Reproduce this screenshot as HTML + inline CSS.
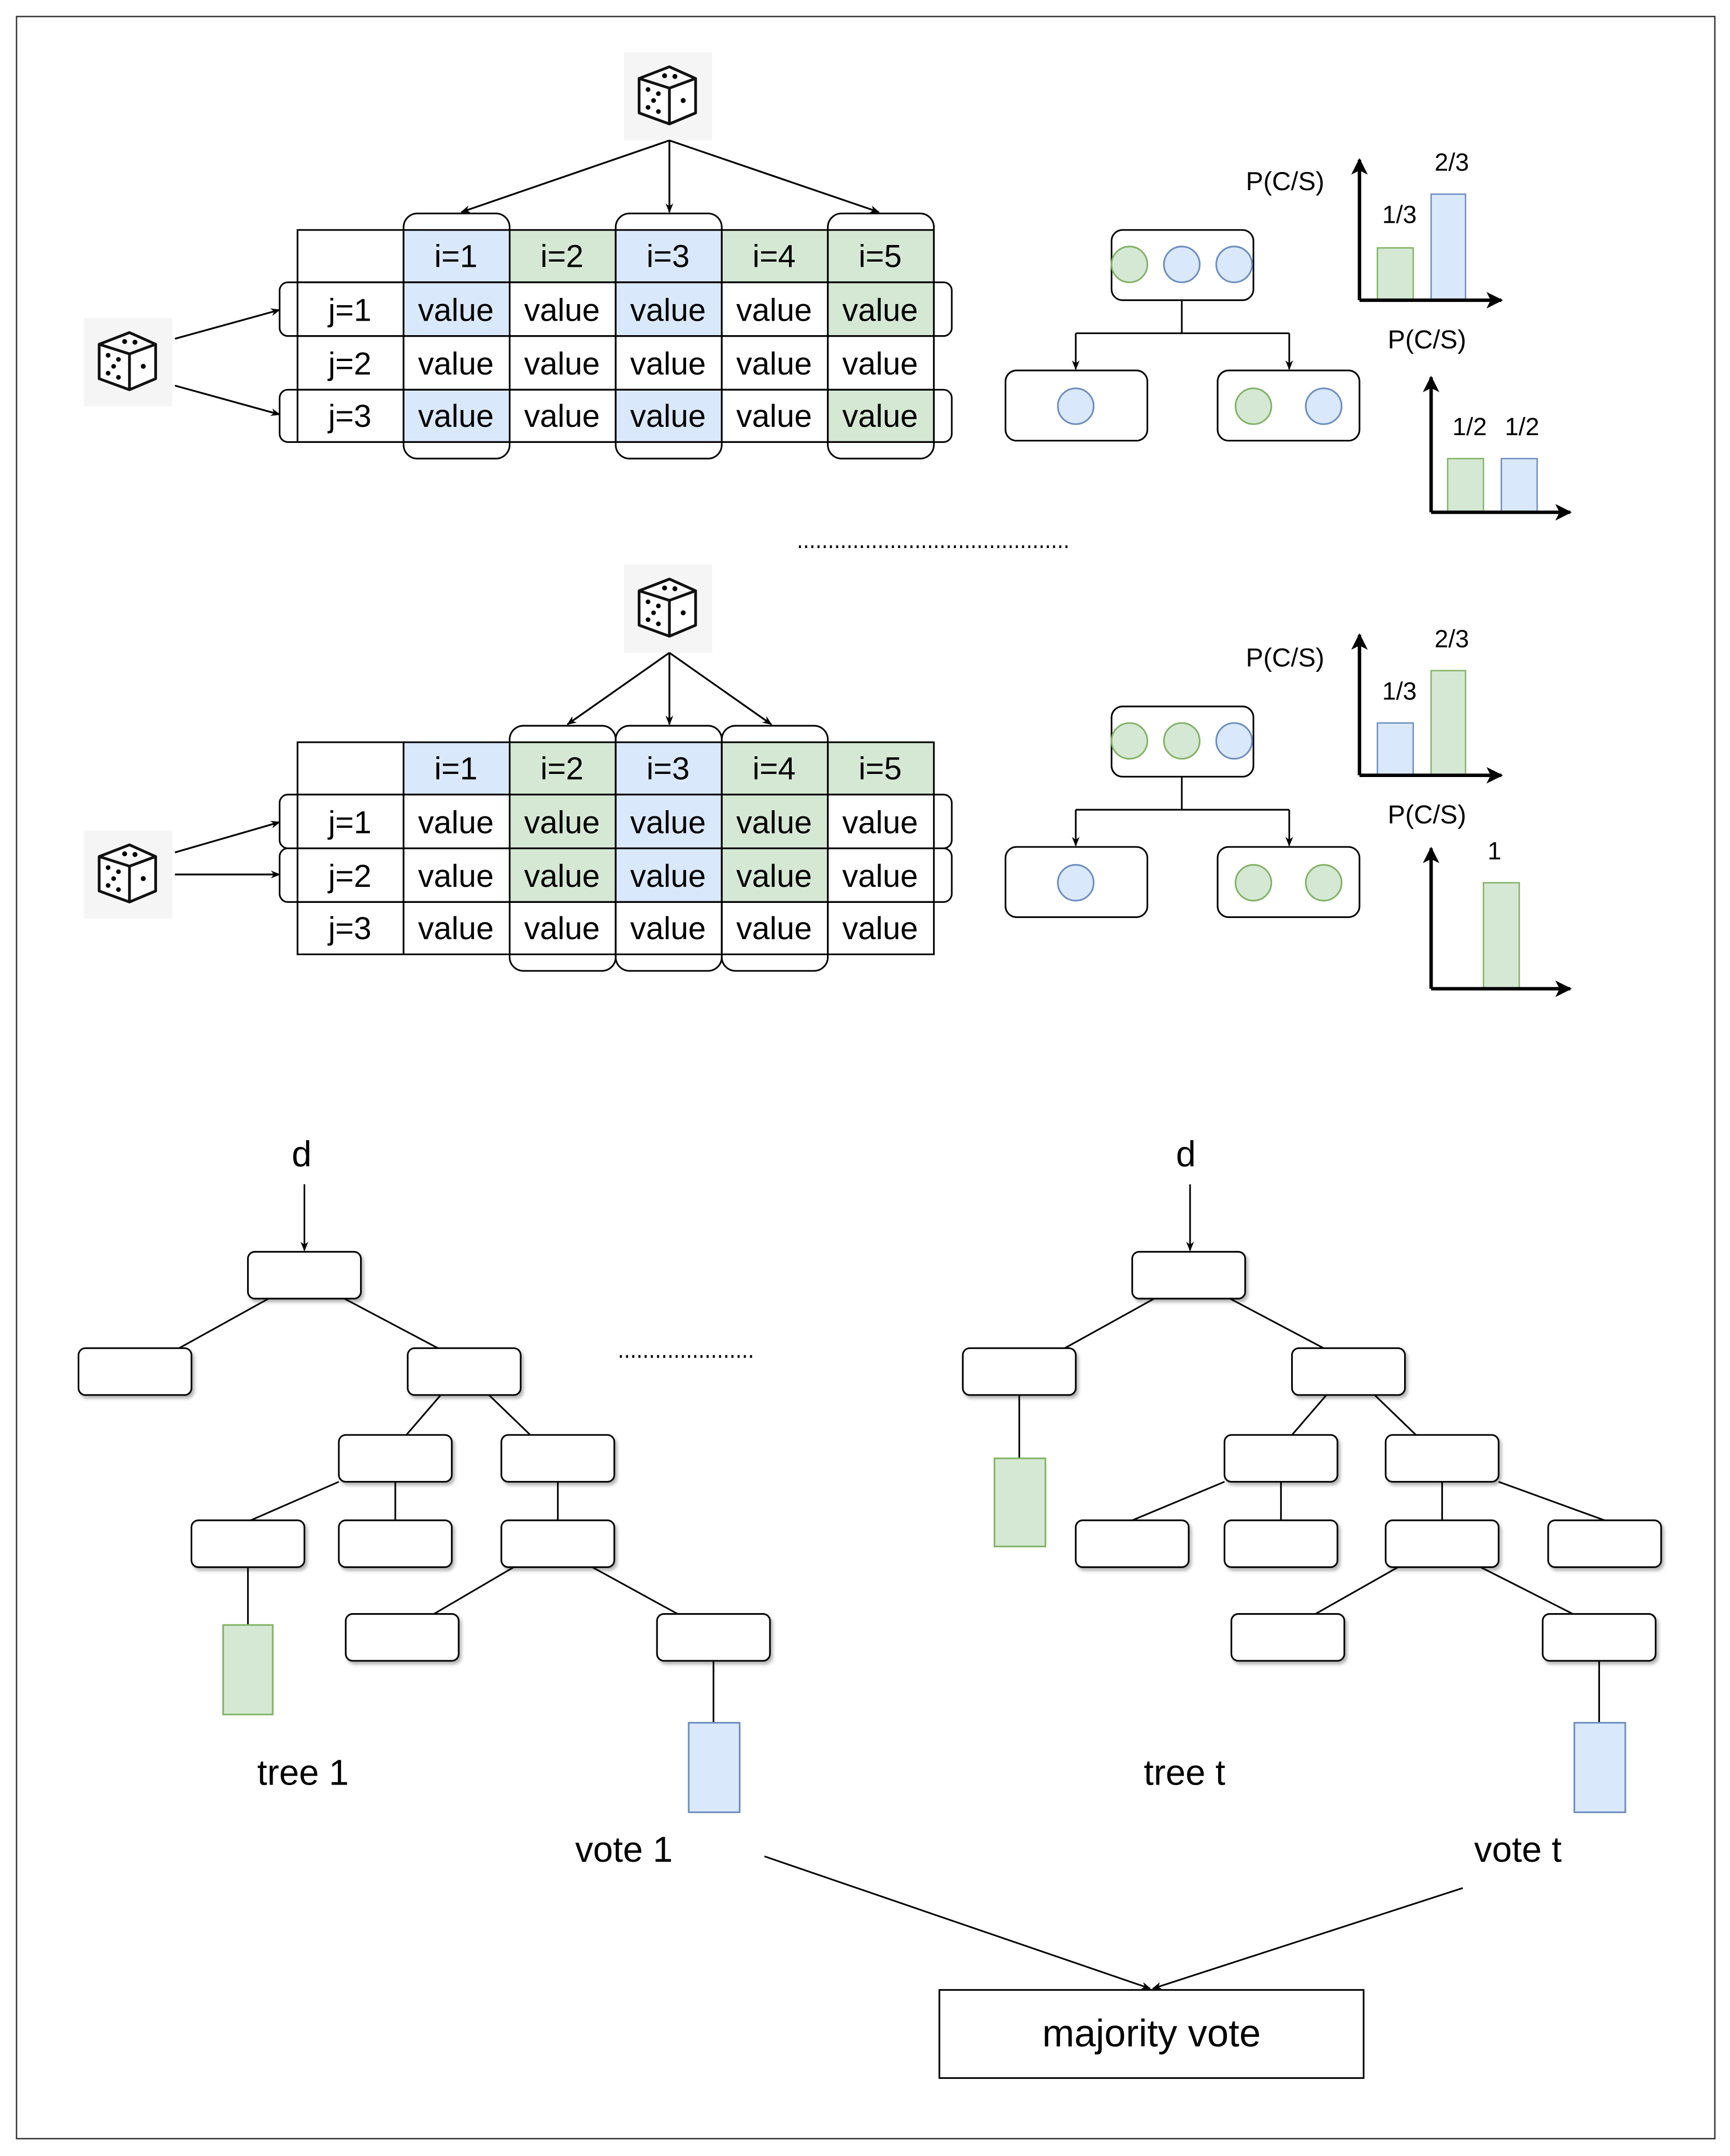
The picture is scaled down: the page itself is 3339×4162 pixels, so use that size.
<!DOCTYPE html>
<html><head><meta charset="utf-8"><style>
html,body{margin:0;padding:0;background:#fff;}
svg{display:block;}
text{font-family:"Liberation Sans",Arial,sans-serif;fill:#000;}
</style></head><body>
<svg width="3339" height="4162" viewBox="0 0 1256 1565.6" preserveAspectRatio="none" xmlns="http://www.w3.org/2000/svg">
<defs>
<marker id="ar" viewBox="0 0 10 10" refX="9" refY="5" markerWidth="7" markerHeight="7" orient="auto-start-reverse" markerUnits="userSpaceOnUse">
<path d="M0,1 L10,5 L0,9 L3,5 z" fill="#000"/></marker>
<marker id="ar2" viewBox="0 0 10 10" refX="9" refY="5" markerWidth="12" markerHeight="12" orient="auto" markerUnits="userSpaceOnUse">
<path d="M0,0 L10,5 L0,10 L2.5,5 z" fill="#000"/></marker>
<filter id="sh" x="-20%" y="-20%" width="150%" height="160%"><feDropShadow dx="1.5" dy="2" stdDeviation="1.2" flood-color="#000" flood-opacity="0.3"/></filter>
<g id="dice">
<rect x="-33" y="-32" width="64" height="64" fill="#f5f5f5"/>
<path d="M0,-21.5 L19,-13 L19,12 L0,20 L-22,12 L-22,-13 Z M-22,-13 L0,-6 L19,-13 M0,-6 L0,20" fill="#fff" stroke="#111" stroke-width="2" stroke-linejoin="round"/>
<circle cx="-3.5" cy="-15" r="1.8"/><circle cx="4" cy="-14.5" r="1.8"/>
<circle cx="-15.5" cy="-5" r="1.7"/><circle cx="-8" cy="-2" r="1.7"/><circle cx="-11.5" cy="3" r="1.7"/><circle cx="-15.5" cy="8" r="1.7"/><circle cx="-8" cy="11" r="1.7"/>
<circle cx="10" cy="3" r="1.8"/>
</g>
</defs>
<rect x="12" y="12" width="1233" height="1541" fill="none" stroke="#333" stroke-width="1"/>

<!-- ============ BLOCK 1 ============ -->
<use href="#dice" x="486" y="70"/>
<g stroke="#000" stroke-width="1.3" fill="none">
<line x1="486" y1="102" x2="335" y2="154" marker-end="url(#ar)"/>
<line x1="486" y1="102" x2="486" y2="154" marker-end="url(#ar)"/>
<line x1="486" y1="102" x2="638" y2="154" marker-end="url(#ar)"/>
</g>
<use href="#dice" x="94" y="263"/>
<g stroke="#000" stroke-width="1.3" fill="none">
<line x1="127" y1="246" x2="203" y2="225" marker-end="url(#ar)"/>
<line x1="127" y1="280" x2="203" y2="301" marker-end="url(#ar)"/>
</g>
<!-- table 1 cells -->
<g stroke="#000" stroke-width="1.2">
<rect x="216" y="167" width="77" height="38" fill="#fff"/>
<rect x="293" y="167" width="77" height="38" fill="#dae8fc"/>
<rect x="370" y="167" width="77" height="38" fill="#d5e8d4"/>
<rect x="447" y="167" width="77" height="38" fill="#dae8fc"/>
<rect x="524" y="167" width="77" height="38" fill="#d5e8d4"/>
<rect x="601" y="167" width="77" height="38" fill="#d5e8d4"/>
<rect x="216" y="205" width="77" height="39" fill="#fff"/>
<rect x="293" y="205" width="77" height="39" fill="#dae8fc"/>
<rect x="370" y="205" width="77" height="39" fill="#fff"/>
<rect x="447" y="205" width="77" height="39" fill="#dae8fc"/>
<rect x="524" y="205" width="77" height="39" fill="#fff"/>
<rect x="601" y="205" width="77" height="39" fill="#d5e8d4"/>
<rect x="216" y="244" width="77" height="39" fill="#fff"/>
<rect x="293" y="244" width="77" height="39" fill="#fff"/>
<rect x="370" y="244" width="77" height="39" fill="#fff"/>
<rect x="447" y="244" width="77" height="39" fill="#fff"/>
<rect x="524" y="244" width="77" height="39" fill="#fff"/>
<rect x="601" y="244" width="77" height="39" fill="#fff"/>
<rect x="216" y="283" width="77" height="38" fill="#fff"/>
<rect x="293" y="283" width="77" height="38" fill="#dae8fc"/>
<rect x="370" y="283" width="77" height="38" fill="#fff"/>
<rect x="447" y="283" width="77" height="38" fill="#dae8fc"/>
<rect x="524" y="283" width="77" height="38" fill="#fff"/>
<rect x="601" y="283" width="77" height="38" fill="#d5e8d4"/>
</g>
<g fill="none" stroke="#000" stroke-width="1.2">
<rect x="293" y="155" width="77" height="178" rx="10"/>
<rect x="447" y="155" width="77" height="178" rx="10"/>
<rect x="601" y="155" width="77" height="178" rx="10"/>
<rect x="203" y="205" width="488" height="39" rx="6"/>
<rect x="203" y="283" width="488" height="38" rx="6"/>
</g>
<g font-size="23" text-anchor="middle">
<text x="331" y="194">i=1</text><text x="408" y="194">i=2</text><text x="485" y="194">i=3</text><text x="562" y="194">i=4</text><text x="639" y="194">i=5</text>
<text x="254" y="233">j=1</text><text x="254" y="272">j=2</text><text x="254" y="310">j=3</text>
<text x="331" y="233">value</text><text x="408" y="233">value</text><text x="485" y="233">value</text><text x="562" y="233">value</text><text x="639" y="233">value</text>
<text x="331" y="272">value</text><text x="408" y="272">value</text><text x="485" y="272">value</text><text x="562" y="272">value</text><text x="639" y="272">value</text>
<text x="331" y="310">value</text><text x="408" y="310">value</text><text x="485" y="310">value</text><text x="562" y="310">value</text><text x="639" y="310">value</text>
</g>
<!-- node tree 1 -->
<g stroke="#000" stroke-width="1.2" fill="#fff">
<rect x="807" y="167" width="103" height="51" rx="8"/>
<rect x="730" y="269" width="103" height="51" rx="8"/>
<rect x="884" y="269" width="103" height="51" rx="8"/>
</g>
<g stroke="#000" stroke-width="1.2" fill="none">
<path d="M858,218 V242 M781,242 H936"/>
<line x1="781" y1="242" x2="781" y2="268" marker-end="url(#ar)"/>
<line x1="936" y1="242" x2="936" y2="268" marker-end="url(#ar)"/>
</g>
<g stroke-width="1.2">
<circle cx="820" cy="192" r="13" fill="#d5e8d4" stroke="#82b366"/>
<circle cx="858" cy="192" r="13" fill="#dae8fc" stroke="#6c8ebf"/>
<circle cx="896" cy="192" r="13" fill="#dae8fc" stroke="#6c8ebf"/>
<circle cx="781" cy="295" r="13" fill="#dae8fc" stroke="#6c8ebf"/>
<circle cx="910" cy="295" r="13" fill="#d5e8d4" stroke="#82b366"/>
<circle cx="961" cy="295" r="13" fill="#dae8fc" stroke="#6c8ebf"/>
</g>
<!-- chart 1 -->
<rect x="1000" y="180" width="26" height="38" fill="#d5e8d4" stroke="#82b366"/>
<rect x="1039" y="141" width="25" height="77" fill="#dae8fc" stroke="#6c8ebf"/>
<g stroke="#000" stroke-width="2.5" fill="none">
<line x1="987" y1="218" x2="987" y2="116" marker-end="url(#ar2)"/>
<line x1="987" y1="218" x2="1090" y2="218" marker-end="url(#ar2)"/>
</g>
<text x="933" y="138" font-size="19" text-anchor="middle">P(C/S)</text>
<text x="1016" y="162" font-size="18" text-anchor="middle">1/3</text>
<text x="1054" y="124" font-size="18" text-anchor="middle">2/3</text>
<!-- chart 2 -->
<rect x="1051" y="333" width="26" height="39" fill="#d5e8d4" stroke="#82b366"/>
<rect x="1090" y="333" width="26" height="39" fill="#dae8fc" stroke="#6c8ebf"/>
<g stroke="#000" stroke-width="2.5" fill="none">
<line x1="1039" y1="372" x2="1039" y2="274" marker-end="url(#ar2)"/>
<line x1="1039" y1="372" x2="1140" y2="372" marker-end="url(#ar2)"/>
</g>
<text x="1036" y="253" font-size="19" text-anchor="middle">P(C/S)</text>
<text x="1067" y="316" font-size="18" text-anchor="middle">1/2</text>
<text x="1105" y="316" font-size="18" text-anchor="middle">1/2</text>

<line x1="580" y1="397" x2="776" y2="397" stroke="#000" stroke-width="2" stroke-dasharray="1.5 3"/>

<!-- ============ BLOCK 2 ============ -->
<use href="#dice" x="486" y="442"/>
<g stroke="#000" stroke-width="1.3" fill="none">
<line x1="486" y1="474" x2="412" y2="526" marker-end="url(#ar)"/>
<line x1="486" y1="474" x2="486" y2="526" marker-end="url(#ar)"/>
<line x1="486" y1="474" x2="560" y2="526" marker-end="url(#ar)"/>
</g>
<use href="#dice" x="94" y="635"/>
<g stroke="#000" stroke-width="1.3" fill="none">
<line x1="127" y1="619" x2="203" y2="597" marker-end="url(#ar)"/>
<line x1="127" y1="635" x2="203" y2="635" marker-end="url(#ar)"/>
</g>
<g stroke="#000" stroke-width="1.2">
<rect x="216" y="539" width="77" height="38" fill="#fff"/>
<rect x="293" y="539" width="77" height="38" fill="#dae8fc"/>
<rect x="370" y="539" width="77" height="38" fill="#d5e8d4"/>
<rect x="447" y="539" width="77" height="38" fill="#dae8fc"/>
<rect x="524" y="539" width="77" height="38" fill="#d5e8d4"/>
<rect x="601" y="539" width="77" height="38" fill="#d5e8d4"/>
<rect x="216" y="577" width="77" height="39" fill="#fff"/>
<rect x="293" y="577" width="77" height="39" fill="#fff"/>
<rect x="370" y="577" width="77" height="39" fill="#d5e8d4"/>
<rect x="447" y="577" width="77" height="39" fill="#dae8fc"/>
<rect x="524" y="577" width="77" height="39" fill="#d5e8d4"/>
<rect x="601" y="577" width="77" height="39" fill="#fff"/>
<rect x="216" y="616" width="77" height="39" fill="#fff"/>
<rect x="293" y="616" width="77" height="39" fill="#fff"/>
<rect x="370" y="616" width="77" height="39" fill="#d5e8d4"/>
<rect x="447" y="616" width="77" height="39" fill="#dae8fc"/>
<rect x="524" y="616" width="77" height="39" fill="#d5e8d4"/>
<rect x="601" y="616" width="77" height="39" fill="#fff"/>
<rect x="216" y="655" width="77" height="38" fill="#fff"/>
<rect x="293" y="655" width="77" height="38" fill="#fff"/>
<rect x="370" y="655" width="77" height="38" fill="#fff"/>
<rect x="447" y="655" width="77" height="38" fill="#fff"/>
<rect x="524" y="655" width="77" height="38" fill="#fff"/>
<rect x="601" y="655" width="77" height="38" fill="#fff"/>
</g>
<g fill="none" stroke="#000" stroke-width="1.2">
<rect x="370" y="527" width="77" height="178" rx="10"/>
<rect x="447" y="527" width="77" height="178" rx="10"/>
<rect x="524" y="527" width="77" height="178" rx="10"/>
<rect x="203" y="577" width="488" height="39" rx="6"/>
<rect x="203" y="616" width="488" height="39" rx="6"/>
</g>
<g font-size="23" text-anchor="middle">
<text x="331" y="566">i=1</text><text x="408" y="566">i=2</text><text x="485" y="566">i=3</text><text x="562" y="566">i=4</text><text x="639" y="566">i=5</text>
<text x="254" y="605">j=1</text><text x="254" y="644">j=2</text><text x="254" y="682">j=3</text>
<text x="331" y="605">value</text><text x="408" y="605">value</text><text x="485" y="605">value</text><text x="562" y="605">value</text><text x="639" y="605">value</text>
<text x="331" y="644">value</text><text x="408" y="644">value</text><text x="485" y="644">value</text><text x="562" y="644">value</text><text x="639" y="644">value</text>
<text x="331" y="682">value</text><text x="408" y="682">value</text><text x="485" y="682">value</text><text x="562" y="682">value</text><text x="639" y="682">value</text>
</g>
<g stroke="#000" stroke-width="1.2" fill="#fff">
<rect x="807" y="513" width="103" height="51" rx="8"/>
<rect x="730" y="615" width="103" height="51" rx="8"/>
<rect x="884" y="615" width="103" height="51" rx="8"/>
</g>
<g stroke="#000" stroke-width="1.2" fill="none">
<path d="M858,564 V588 M781,588 H936"/>
<line x1="781" y1="588" x2="781" y2="614" marker-end="url(#ar)"/>
<line x1="936" y1="588" x2="936" y2="614" marker-end="url(#ar)"/>
</g>
<g stroke-width="1.2">
<circle cx="820" cy="538" r="13" fill="#d5e8d4" stroke="#82b366"/>
<circle cx="858" cy="538" r="13" fill="#d5e8d4" stroke="#82b366"/>
<circle cx="896" cy="538" r="13" fill="#dae8fc" stroke="#6c8ebf"/>
<circle cx="781" cy="641" r="13" fill="#dae8fc" stroke="#6c8ebf"/>
<circle cx="910" cy="641" r="13" fill="#d5e8d4" stroke="#82b366"/>
<circle cx="961" cy="641" r="13" fill="#d5e8d4" stroke="#82b366"/>
</g>
<rect x="1000" y="525" width="26" height="38" fill="#dae8fc" stroke="#6c8ebf"/>
<rect x="1039" y="487" width="25" height="76" fill="#d5e8d4" stroke="#82b366"/>
<g stroke="#000" stroke-width="2.5" fill="none">
<line x1="987" y1="563" x2="987" y2="461" marker-end="url(#ar2)"/>
<line x1="987" y1="563" x2="1090" y2="563" marker-end="url(#ar2)"/>
</g>
<text x="933" y="484" font-size="19" text-anchor="middle">P(C/S)</text>
<text x="1016" y="508" font-size="18" text-anchor="middle">1/3</text>
<text x="1054" y="470" font-size="18" text-anchor="middle">2/3</text>
<rect x="1077" y="641" width="26" height="77" fill="#d5e8d4" stroke="#82b366"/>
<g stroke="#000" stroke-width="2.5" fill="none">
<line x1="1039" y1="718" x2="1039" y2="616" marker-end="url(#ar2)"/>
<line x1="1039" y1="718" x2="1140" y2="718" marker-end="url(#ar2)"/>
</g>
<text x="1036" y="598" font-size="19" text-anchor="middle">P(C/S)</text>
<text x="1085" y="624" font-size="18" text-anchor="middle">1</text>

<!-- ============ TREES ============ -->
<g stroke="#000" stroke-width="1.2" fill="none">
<line x1="221" y1="860" x2="221" y2="908" marker-end="url(#ar)"/>
<line x1="195" y1="943" x2="130" y2="979"/>
<line x1="250" y1="943" x2="318" y2="979"/>
<line x1="320" y1="1013" x2="295" y2="1042"/>
<line x1="355" y1="1013" x2="385" y2="1042"/>
<line x1="246" y1="1076" x2="182" y2="1104"/>
<line x1="287" y1="1076" x2="287" y2="1104"/>
<line x1="405" y1="1076" x2="405" y2="1104"/>
<line x1="180" y1="1138" x2="180" y2="1180"/>
<line x1="373" y1="1138" x2="315" y2="1172"/>
<line x1="430" y1="1138" x2="492" y2="1172"/>
<line x1="518" y1="1206" x2="518" y2="1251"/>

<line x1="864" y1="860" x2="864" y2="908" marker-end="url(#ar)"/>
<line x1="838" y1="943" x2="773" y2="979"/>
<line x1="893" y1="943" x2="961" y2="979"/>
<line x1="740" y1="1013" x2="740" y2="1059"/>
<line x1="963" y1="1013" x2="938" y2="1042"/>
<line x1="998" y1="1013" x2="1028" y2="1042"/>
<line x1="889" y1="1076" x2="822" y2="1104"/>
<line x1="930" y1="1076" x2="930" y2="1104"/>
<line x1="1047" y1="1076" x2="1047" y2="1104"/>
<line x1="1088" y1="1076" x2="1165" y2="1104"/>
<line x1="1015" y1="1138" x2="955" y2="1172"/>
<line x1="1075" y1="1138" x2="1142" y2="1172"/>
<line x1="1161" y1="1206" x2="1161" y2="1251"/>
</g>
<g stroke="#000" stroke-width="1.2" fill="#fff" filter="url(#sh)">
<rect x="180" y="909" width="82" height="34" rx="5"/>
<rect x="57" y="979" width="82" height="34" rx="5"/>
<rect x="296" y="979" width="82" height="34" rx="5"/>
<rect x="246" y="1042" width="82" height="34" rx="5"/>
<rect x="364" y="1042" width="82" height="34" rx="5"/>
<rect x="139" y="1104" width="82" height="34" rx="5"/>
<rect x="246" y="1104" width="82" height="34" rx="5"/>
<rect x="364" y="1104" width="82" height="34" rx="5"/>
<rect x="251" y="1172" width="82" height="34" rx="5"/>
<rect x="477" y="1172" width="82" height="34" rx="5"/>

<rect x="822" y="909" width="82" height="34" rx="5"/>
<rect x="699" y="979" width="82" height="34" rx="5"/>
<rect x="938" y="979" width="82" height="34" rx="5"/>
<rect x="889" y="1042" width="82" height="34" rx="5"/>
<rect x="1006" y="1042" width="82" height="34" rx="5"/>
<rect x="781" y="1104" width="82" height="34" rx="5"/>
<rect x="889" y="1104" width="82" height="34" rx="5"/>
<rect x="1006" y="1104" width="82" height="34" rx="5"/>
<rect x="1124" y="1104" width="82" height="34" rx="5"/>
<rect x="894" y="1172" width="82" height="34" rx="5"/>
<rect x="1120" y="1172" width="82" height="34" rx="5"/>
</g>
<rect x="162" y="1180" width="36" height="65" fill="#d5e8d4" stroke="#82b366" stroke-width="1.2"/>
<rect x="500" y="1251" width="37" height="65" fill="#dae8fc" stroke="#6c8ebf" stroke-width="1.2"/>
<rect x="722" y="1059" width="37" height="64" fill="#d5e8d4" stroke="#82b366" stroke-width="1.2"/>
<rect x="1143" y="1251" width="37" height="65" fill="#dae8fc" stroke="#6c8ebf" stroke-width="1.2"/>
<line x1="450" y1="985" x2="547" y2="985" stroke="#000" stroke-width="2" stroke-dasharray="1.5 3"/>

<g font-size="26" text-anchor="middle">
<text x="219" y="847">d</text>
<text x="861" y="847">d</text>
<text x="220" y="1296">tree 1</text>
<text x="860" y="1296">tree t</text>
<text x="453" y="1352">vote 1</text>
<text x="1102" y="1352">vote t</text>
</g>
<g stroke="#000" stroke-width="1.2" fill="none">
<line x1="555" y1="1348" x2="835" y2="1444" marker-end="url(#ar)"/>
<line x1="1062" y1="1371" x2="837" y2="1444" marker-end="url(#ar)"/>
</g>
<rect x="682" y="1445" width="308" height="64" fill="#fff" stroke="#000" stroke-width="1.2"/>
<text x="836" y="1486" font-size="28" text-anchor="middle">majority vote</text>
</svg>
</body></html>
